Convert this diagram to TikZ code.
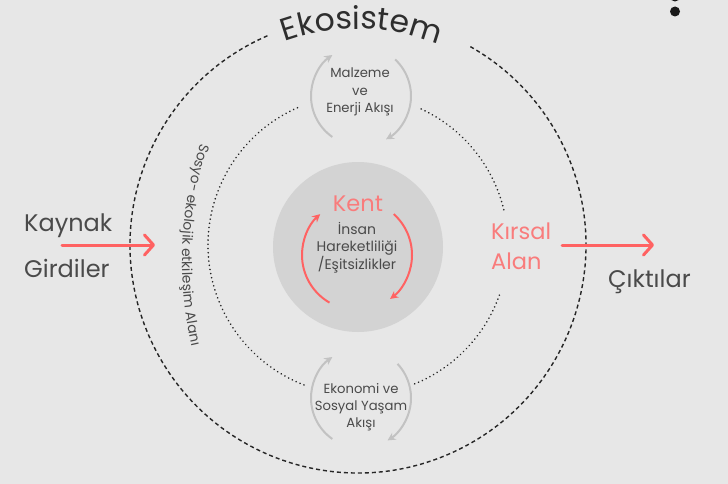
\documentclass[tikz,border=0pt]{standalone}
\usepackage{fontspec}
\setmainfont{Poppins}
\usetikzlibrary{arrows.meta,decorations.text}
\definecolor{bg}{HTML}{E7E7E7}
\definecolor{kentgray}{HTML}{D3D3D3}
\definecolor{txt}{HTML}{4A4A4A}
\definecolor{ekotxt}{HTML}{2E2E2E}
\definecolor{redline}{HTML}{FF6262}
\definecolor{salmon}{HTML}{F97C7C}
\definecolor{arrgray}{HTML}{C2C2C2}
\newcommand\ekofont{\fontsize{31.5}{32}\selectfont\color{ekotxt}}
\newcommand\sosfont{\fontsize{13.8}{15}\selectfont\color{txt}}
\begin{document}
\begin{tikzpicture}[x=1pt,y=-1pt,
  lbl/.style={font=\fontsize{13.2}{15}\selectfont, text=txt, inner sep=0pt, anchor=base},
  midlbl/.style={font=\fontsize{14}{16}\selectfont, text=txt, inner sep=0pt, anchor=base},
  big/.style={font=\fontsize{24}{27}\selectfont, text=txt, inner sep=0pt, anchor=base west},
  redtxt/.style={font=\fontsize{22.5}{26}\selectfont, text=salmon, inner sep=0pt},
  outerline/.style={draw=black!85, line width=1.4pt, dash pattern=on 4pt off 3pt},
  dotline/.style={draw=black!85, line width=1.8pt, line cap=round, dash pattern=on 0.01pt off 4.2pt},
  grayarc/.style={draw=arrgray, line width=2pt, -{Stealth[length=8pt,width=8pt]}},
  redarc/.style={draw=redline, line width=2pt, -{Stealth[length=8pt,width=8pt]}},
  bigarrow/.style={draw=redline, line width=3pt, line cap=round, -{Straight Barb[length=9pt,width=20pt,round]}}
]
\fill[bg] (0,0) rectangle (728,484);
\useasboundingbox (0,0) rectangle (728,484);
\clip (0,0) rectangle (728,484);

% top-right dots
\fill[black!90] (675,-3.5) circle (5);
\fill[black!90] (675,11.5) circle (5);

\coordinate (C) at (358,245);
% outer dashed circle (Ekosistem)
\draw[outerline] (C) ++(-113.4:228) arc[start angle=-113.4, end angle=-420.6, radius=228];
% inner dotted circle
\draw[dotline] (C) ++(-113.8:150) arc[start angle=-113.8, end angle=-249, radius=150];
\draw[dotline] (C) ++(67.8:150) arc[start angle=67.8, end angle=18, radius=150];
\draw[dotline] (C) ++(-13.6:150) arc[start angle=-13.6, end angle=-65.3, radius=150];

% Ekosistem title along arc
\path[decorate, decoration={text along path, text align=center, text={|\ekofont|Ekosistem}}]
  (C) ++(-126:216) arc[start angle=-126, end angle=-52, radius=216];

% Sosyo-ekolojik text along arc
\path[decorate, decoration={text along path, text align=center, text={|\sosfont|Sosyo- ekolojik etkileşim Alanı}}]
  (563,261) ++(-155:381) arc[start angle=-155, end angle=-200, radius=381];

% Kent circle
\node[circle, fill=kentgray, minimum size=170pt, inner sep=0pt] (kentc) at (358,247) {};
\node[redtxt, anchor=base] (kent) at (358,211) {Kent};
\node[midlbl] (insan1) at (357,234) {İnsan};
\node[midlbl] (insan2) at (357,251.5) {Hareketliliği};
\node[midlbl] (insan3) at (357,269) {/Eşitsizlikler};
\draw[redarc] (357,255) ++(-240:55) arc[start angle=-240, end angle=-132, radius=55];
\draw[redarc] (357,255) ++(-48:55) arc[start angle=-48, end angle=53, radius=55];

% top flow
\node[lbl] (malz1) at (360,78) {Malzeme};
\node[lbl] (malz2) at (360,95.5) {ve};
\node[lbl] (malz3) at (360,113) {Enerji Akışı};
\draw[grayarc] (361,96) ++(-235:50) arc[start angle=-235, end angle=-125, radius=50];
\draw[grayarc] (361,96) ++(-47:50) arc[start angle=-47, end angle=60, radius=50];

% bottom flow
\node[lbl] (eko1) at (361,393) {Ekonomi ve};
\node[lbl] (eko2) at (361,410.5) {Sosyal Yaşam};
\node[lbl] (eko3) at (361,427) {Akışı};
\draw[grayarc] (361,398) ++(-235:50) arc[start angle=-235, end angle=-125, radius=50];
\draw[grayarc] (361,398) ++(-43:50) arc[start angle=-43, end angle=58, radius=50];

% inputs
\node[big] (kaynak) at (24,231) {Kaynak};
\node[big] (girdiler) at (24,277) {Girdiler};
\coordinate (inA) at (62,245);
\coordinate (inB) at (155,245);
\draw[bigarrow] (inA) -- (inB);

% rural area
\node[redtxt, anchor=base west] (kirsal) at (491,239) {Kırsal};
\node[redtxt, anchor=base west] (alan) at (491,269) {Alan};

% outputs
\coordinate (outA) at (562,245);
\coordinate (outB) at (654,245);
\draw[bigarrow] (outA) -- (outB);
\node[big] (cikti) at (608,287) {Çıktılar};
\end{tikzpicture}
\end{document}
